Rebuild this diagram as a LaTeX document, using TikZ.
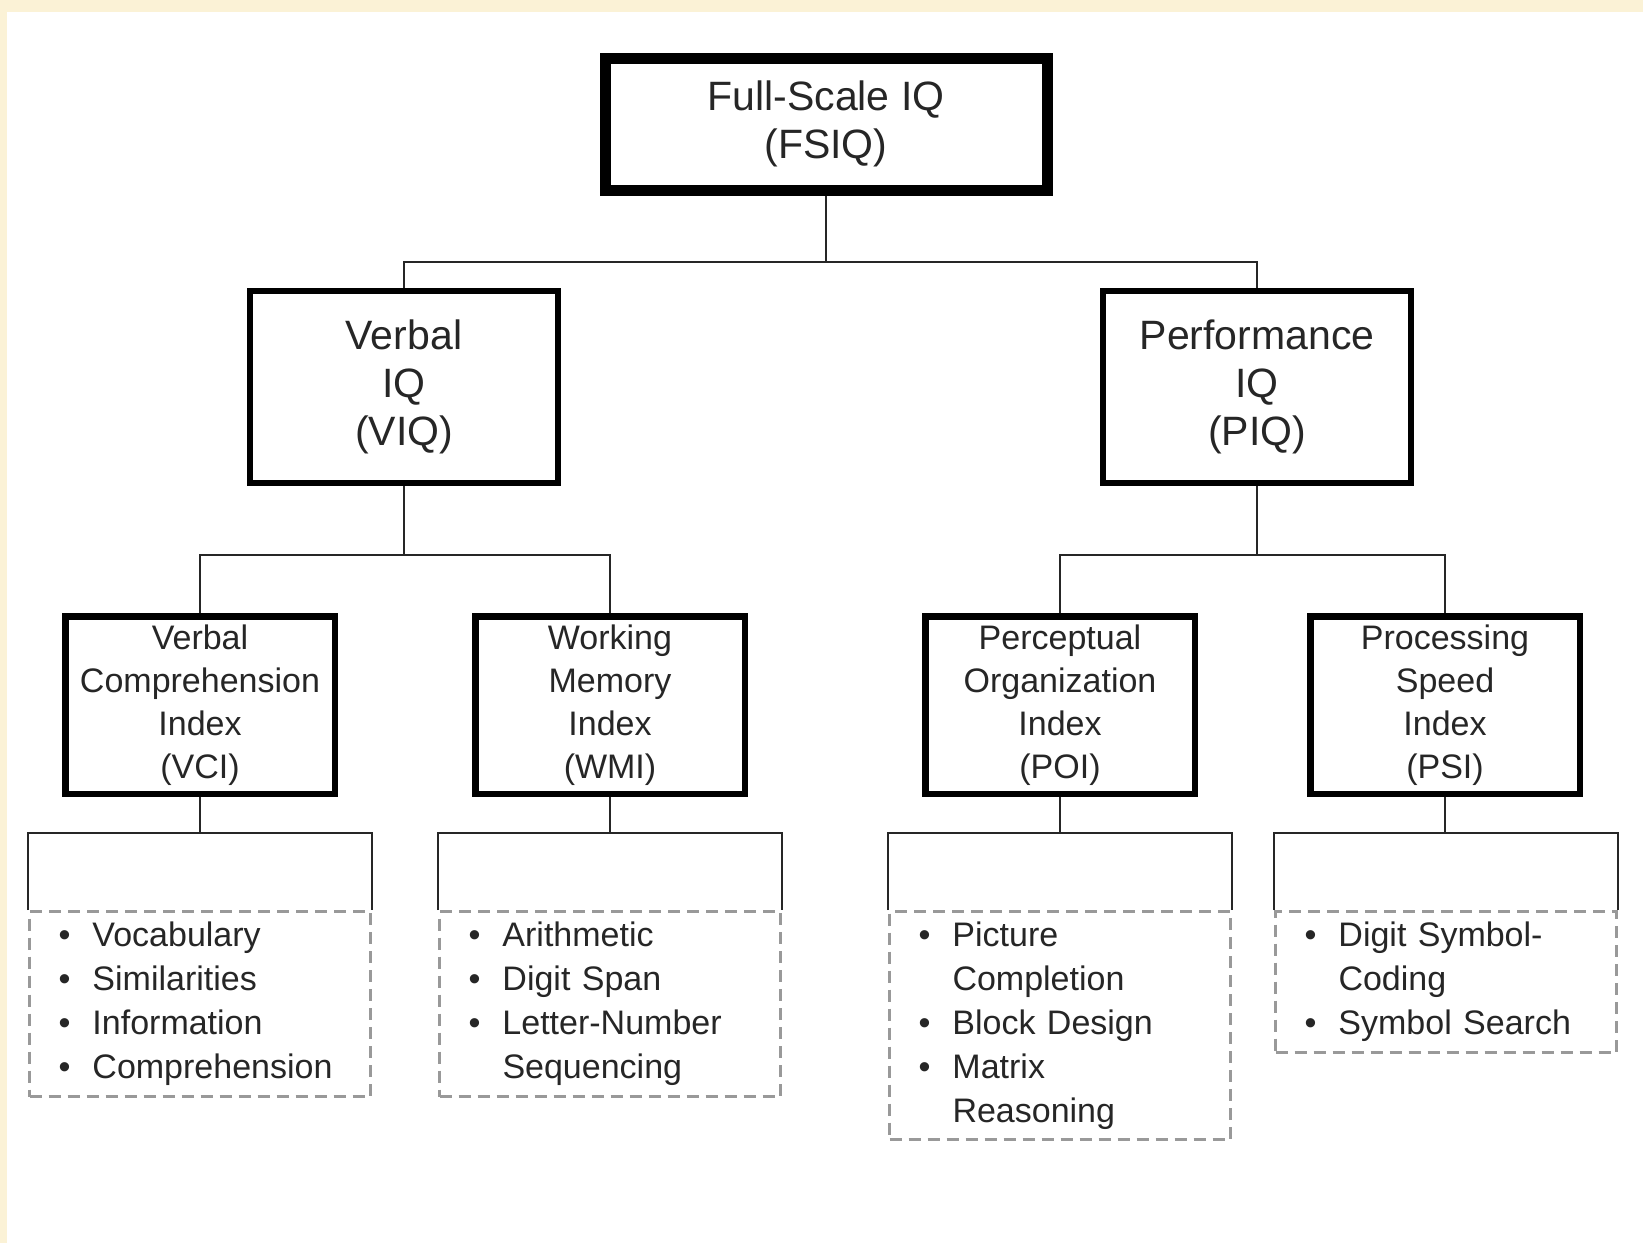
\documentclass[tikz,border=0pt]{standalone}
\usepackage{fontspec}
\setmainfont{Liberation Sans}
\usepackage{tikz}
\usetikzlibrary{positioning}
\definecolor{paper}{RGB}{251,242,214}
\definecolor{ink}{RGB}{38,38,38}
\newcommand{\fsz}[2]{\fontsize{#1}{#2}\selectfont}
\newcommand{\bul}[1]{\makebox[34pt][l]{\textbullet}#1}
\newcommand{\cont}[1]{\hspace*{34pt}#1}

\tikzset{
  base/.style={draw=black, fill=white, align=center, inner sep=0pt, text=ink},
  fullbox/.style={base, line width=11pt, minimum width=442pt, minimum height=132pt, font=\fsz{41}{48}},
  iqbox/.style={base, line width=6.5pt, minimum width=308pt, minimum height=192pt, font=\fsz{41}{48}},
  indexbox/.style={base, line width=6.5pt, minimum width=269.5pt, minimum height=177.5pt, font=\fsz{34}{43}},
  subtests/.style={draw=black!40, line width=3pt, dash pattern=on 12pt off 7pt, fill=white,
    anchor=north, text=ink, align=left, text width=283pt, inner xsep=29pt, inner ysep=0pt,
    minimum width=341pt, font=\fsz{34}{44}},
  link/.style={draw=ink, line width=2.5pt}
}

\begin{document}
\begin{tikzpicture}[x=1pt, y=-1pt]
  % page and panel
  \useasboundingbox (0,0) rectangle (1643,1243);
  \fill[paper] (0,0) rectangle (1643,1243);
  \fill[white] (7,12) rectangle (1643,1243);

  % levels of the tree
  \coordinate (bar1) at (0,262);
  \coordinate (bar2) at (0,555);
  \coordinate (bar3) at (0,833);

  \node[fullbox] (fsiq) at (826,124) {Full-Scale IQ\\(FSIQ)};

  \node[iqbox] (viq) at (404,387) {Verbal\\IQ\\(VIQ)};
  \node[iqbox] (piq) at (1257,387) {Performance\\IQ\\(PIQ)};

  \node[indexbox] (vci) at (200,705) {Verbal\\Comprehension\\Index\\(VCI)};
  \node[indexbox] (wmi) at (610,705) {Working\\Memory\\Index\\(WMI)};
  \node[indexbox] (poi) at (1060,705) {Perceptual\\Organization\\Index\\(POI)};
  \node[indexbox] (psi) at (1445,705) {Processing\\Speed\\Index\\(PSI)};

  \node[subtests, minimum height=185pt] (vcilist) at (200,910)
    {\bul{Vocabulary}\\\bul{Similarities}\\\bul{Information}\\\bul{Comprehension}};
  \node[subtests, minimum height=185pt] (wmilist) at (610,910)
    {\bul{Arithmetic}\\\bul{Digit Span}\\\bul{Letter-Number}\\\cont{Sequencing}};
  \node[subtests, minimum height=228pt] (poilist) at (1060,910)
    {\bul{Picture}\\\cont{Completion}\\\bul{Block Design}\\\bul{Matrix}\\\cont{Reasoning}};
  \node[subtests, minimum height=141pt] (psilist) at (1446,910)
    {\bul{Digit Symbol-}\\\cont{Coding}\\\bul{Symbol Search}};

  % connectors
  \draw[link] (fsiq.south) -- (fsiq.south |- bar1) -| (viq.north);
  \draw[link] (fsiq.south |- bar1) -| (piq.north);
  \draw[link] (viq.south) -- (viq.south |- bar2) -| (vci.north);
  \draw[link] (viq.south |- bar2) -| (wmi.north);
  \draw[link] (piq.south) -- (piq.south |- bar2) -| (poi.north);
  \draw[link] (piq.south |- bar2) -| (psi.north);
  \foreach \ix in {vci,wmi,poi,psi}{
    \draw[link] (\ix.south) -- (\ix.south |- bar3);
    \draw[link] (\ix list.north west) |- (\ix list.north |- bar3) -| (\ix list.north east);
  }
\end{tikzpicture}
\end{document}
